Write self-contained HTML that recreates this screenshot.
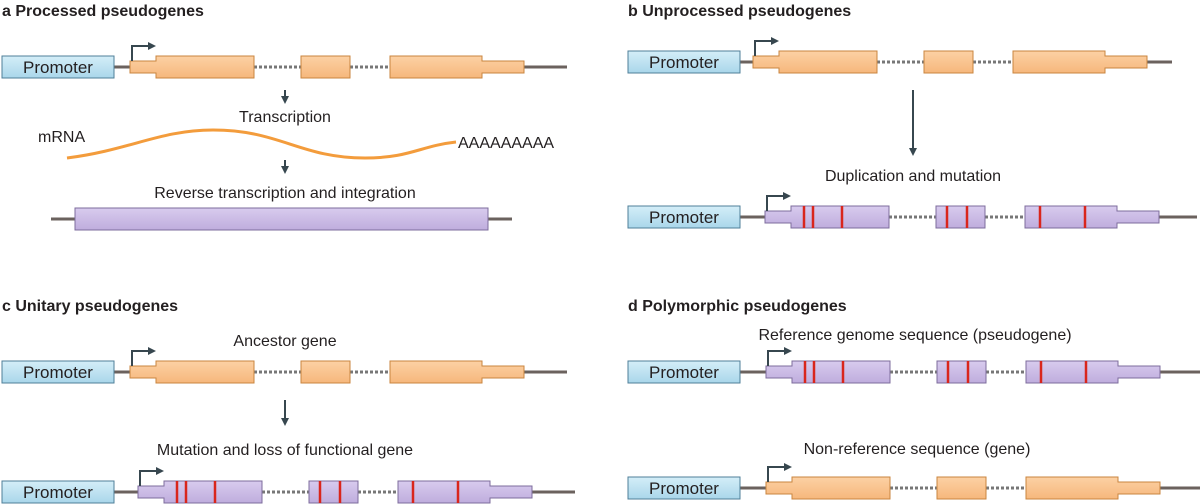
<!DOCTYPE html>
<html><head><meta charset="utf-8"><style>
html,body{margin:0;padding:0;background:#fff}
svg{display:block}
text{font-family:"Liberation Sans",sans-serif;fill:#231f20}
.t{font-size:16px}
.h{font-size:16px;font-weight:bold}
.p{font-size:17px}
</style></head><body>
<svg id="s" width="1200" height="504" viewBox="0 0 1200 504" xmlns="http://www.w3.org/2000/svg">
<defs>
<linearGradient id="gb" x1="0" y1="0" x2="0" y2="1"><stop offset="0" stop-color="#d4eef8"/><stop offset="1" stop-color="#a9d6ea"/></linearGradient>
<linearGradient id="go" x1="0" y1="0" x2="0" y2="1"><stop offset="0" stop-color="#fcd1a4"/><stop offset="1" stop-color="#f6b77c"/></linearGradient>
<linearGradient id="gp" x1="0" y1="0" x2="0" y2="1"><stop offset="0" stop-color="#d8cbee"/><stop offset="1" stop-color="#bfaddd"/></linearGradient>
<marker id="ah" markerWidth="8" markerHeight="8" refX="4" refY="4" orient="auto" markerUnits="userSpaceOnUse"><path d="M0,0 L8,4 L0,8 z" fill="#37474f"/></marker>
</defs>
<g id="shapes"></g>

<text class="h" x="2" y="16">a  Processed pseudogenes</text>
<text class="h" x="628" y="16">b  Unprocessed pseudogenes</text>
<text class="h" x="2" y="311">c  Unitary pseudogenes</text>
<text class="h" x="628" y="311">d  Polymorphic pseudogenes</text>

<line x1="285" y1="90" x2="285" y2="100" stroke="#37474f" stroke-width="2" marker-end="url(#ah)"/>
<text class="t" x="285" y="122" text-anchor="middle">Transcription</text>
<text class="t" x="38" y="142">mRNA</text>
<path d="M67,158 C130,150 160,130 213,130 C280,130 300,158 365,158 C410,158 420,146 456,142" fill="none" stroke="#f39c3c" stroke-width="3"/>
<text class="t" x="458" y="148">AAAAAAAAA</text>
<line x1="285" y1="160" x2="285" y2="170" stroke="#37474f" stroke-width="2" marker-end="url(#ah)"/>
<text class="t" x="285" y="198" text-anchor="middle">Reverse transcription and integration</text>
<line x1="51" y1="219" x2="512" y2="219" stroke="#6b625e" stroke-width="3"/>
<rect x="75" y="208" width="413" height="22" fill="url(#gp)" stroke="#7d6c9c" stroke-width="1"/>

<line x1="913" y1="90" x2="913" y2="152" stroke="#37474f" stroke-width="2" marker-end="url(#ah)"/>
<text class="t" x="913" y="181" text-anchor="middle">Duplication and mutation</text>

<text class="t" x="285" y="346" text-anchor="middle">Ancestor gene</text>
<line x1="285" y1="400" x2="285" y2="422" stroke="#37474f" stroke-width="2" marker-end="url(#ah)"/>
<text class="t" x="285" y="455" text-anchor="middle">Mutation and loss of functional gene</text>

<text class="t" x="915" y="340" text-anchor="middle">Reference genome sequence (pseudogene)</text>
<text class="t" x="917" y="454" text-anchor="middle">Non-reference sequence (gene)</text>

<g id="promos">
<text class="p" x="58" y="73" text-anchor="middle">Promoter</text>
<text class="p" x="684" y="68" text-anchor="middle">Promoter</text>
<text class="p" x="684" y="223" text-anchor="middle">Promoter</text>
<text class="p" x="58" y="378" text-anchor="middle">Promoter</text>
<text class="p" x="58" y="498" text-anchor="middle">Promoter</text>
<text class="p" x="684" y="378" text-anchor="middle">Promoter</text>
<text class="p" x="684" y="494" text-anchor="middle">Promoter</text>
</g>
</svg>
<script>
(function(){
var NS="http://www.w3.org/2000/svg",g=document.getElementById("shapes");
function el(n,a){var e=document.createElementNS(NS,n);for(var k in a)e.setAttribute(k,a[k]);g.appendChild(e);return e;}
function gene(px,cy,n,purple,reds,lineEnd){
  var f=purple?"url(#gp)":"url(#go)", s=purple?"#7d6c9c":"#c9853f";
  var le=lineEnd||n+437, H=11, h=6;
  el("line",{x1:px+112,y1:cy,x2:n,y2:cy,stroke:"#6b625e","stroke-width":3});
  el("line",{x1:n+394,y1:cy,x2:le,y2:cy,stroke:"#6b625e","stroke-width":3});
  el("line",{x1:n+124,y1:cy,x2:n+171,y2:cy,stroke:"#777","stroke-width":3,"stroke-dasharray":"3,2"});
  el("line",{x1:n+220,y1:cy,x2:n+260,y2:cy,stroke:"#777","stroke-width":3,"stroke-dasharray":"3,2"});
  el("path",{d:"M"+n+","+(cy-h)+"H"+(n+26)+"V"+(cy-H)+"H"+(n+124)+"V"+(cy+H)+"H"+(n+26)+"V"+(cy+h)+"H"+n+"Z",fill:f,stroke:s});
  el("rect",{x:n+171,y:cy-H,width:49,height:2*H,fill:f,stroke:s});
  el("path",{d:"M"+(n+260)+","+(cy-H)+"H"+(n+352)+"V"+(cy-h)+"H"+(n+394)+"V"+(cy+h)+"H"+(n+352)+"V"+(cy+H)+"H"+(n+260)+"Z",fill:f,stroke:s});
  if(reds)reds.forEach(function(r){el("line",{x1:n+r,y1:cy-H,x2:n+r,y2:cy+H,stroke:"#d9261c","stroke-width":2.5});});
  el("rect",{x:px,y:cy-11,width:112,height:22,fill:"url(#gb)",stroke:"#4f7f98"});
  el("path",{d:"M"+(n+2)+","+(cy-h)+"V"+(cy-21)+"H"+(n+22),fill:"none",stroke:"#37474f","stroke-width":2,"marker-end":"url(#ah)"});
}
var R=[39,48,77,182,202,275,320];
gene(2,67,130,false);
gene(628,62,753,false,null,1172);
gene(628,217,765,true,R,1197);
gene(2,372,130,false);
gene(2,492,138,true,R);
gene(628,372,766,true,R,1200);
gene(628,488,766,false,null,1200);
document.getElementById("s").appendChild(document.getElementById("promos"));
})();
</script>
</body></html>
